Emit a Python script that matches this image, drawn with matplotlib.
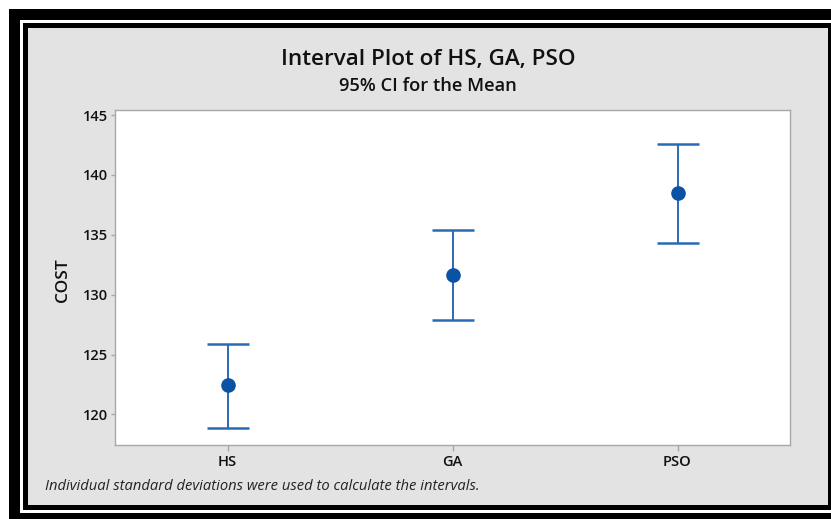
import matplotlib
matplotlib.use("Agg")
from matplotlib import pyplot as plt
from matplotlib.patches import Rectangle

# data
groups = ["HS", "GA", "PSO"]
means = [122.42, 131.65, 138.50]
lower = [118.90, 127.87, 134.33]
upper = [125.89, 135.36, 142.54]
y_ticks = [120, 125, 130, 135, 140, 145]

W, H = 831, 519
plt.rcParams['font.family'] = ['Open Sans', 'DejaVu Sans']

fig = plt.figure(figsize=(W / 100, H / 100), dpi=100, facecolor="white")


def box(x0, y0, x1, y1, color):
    # rectangle given in pixel coords (top-left origin)
    fig.patches.append(Rectangle((x0 / W, 1 - y1 / H), (x1 - x0) / W, (y1 - y0) / H,
                                 transform=fig.transFigure, facecolor=color,
                                 edgecolor="none", zorder=-10))


# double black frame and gray panel
box(9, 9, 840, 540, "black")
box(20, 20, 840, 513, "white")
box(23, 23, 840, 510, "black")
box(27.5, 27.5, 828, 504.5, "#e3e3e3")

ax = fig.add_axes([115 / W, 1 - 445 / H, 675 / W, 335 / H])
ax.set_facecolor("white")

x = list(range(1, len(groups) + 1))
err_lo = [m - l for m, l in zip(means, lower)]
err_hi = [u - m for m, u in zip(means, upper)]
ax.errorbar(x, means, yerr=[err_lo, err_hi], fmt="none", ecolor="#2a6ab5",
            elinewidth=1.4, capsize=15, capthick=1.8)
ax.plot(x, means, "o", color="#0a52a3", markersize=9.5, zorder=3)

ax.set_xlim(0.5, 3.5)
ax.set_ylim(117.45, 145.42)
ax.set_xticks(x)
ax.set_xticklabels(groups)
ax.set_yticks(y_ticks)

for s in ax.spines.values():
    s.set_color("#a8a8a8")
    s.set_linewidth(1.0)
ax.tick_params(axis="both", direction="out", length=3, width=1, color="#a8a8a8",
               labelsize=10.5, labelcolor="#111111")
ax.tick_params(axis="x", length=4, pad=3)
ax.tick_params(axis="y", pad=2)
for lab in ax.get_xticklabels() + ax.get_yticklabels():
    lab.set_fontweight("semibold")

fig.text(63 / W, 1 - 280 / H, "COST", rotation=90, ha="center", va="center",
         fontsize=12.5, fontweight="semibold", color="#111111")

fig.text(428 / W, 1 - 60 / H, "Interval Plot of HS, GA, PSO", ha="center", va="center",
         fontsize=16.2, fontweight="semibold", color="#111111")
fig.text(428 / W, 1 - 86 / H, "95% CI for the Mean", ha="center", va="center",
         fontsize=13.2, fontweight="semibold", color="#111111")
fig.text(45 / W, 1 - 487 / H,
         "Individual standard deviations were used to calculate the intervals.",
         ha="left", va="center", fontsize=10.6, style="italic", color="#222222")

fig.savefig("out.png", dpi=100, facecolor=fig.get_facecolor())
